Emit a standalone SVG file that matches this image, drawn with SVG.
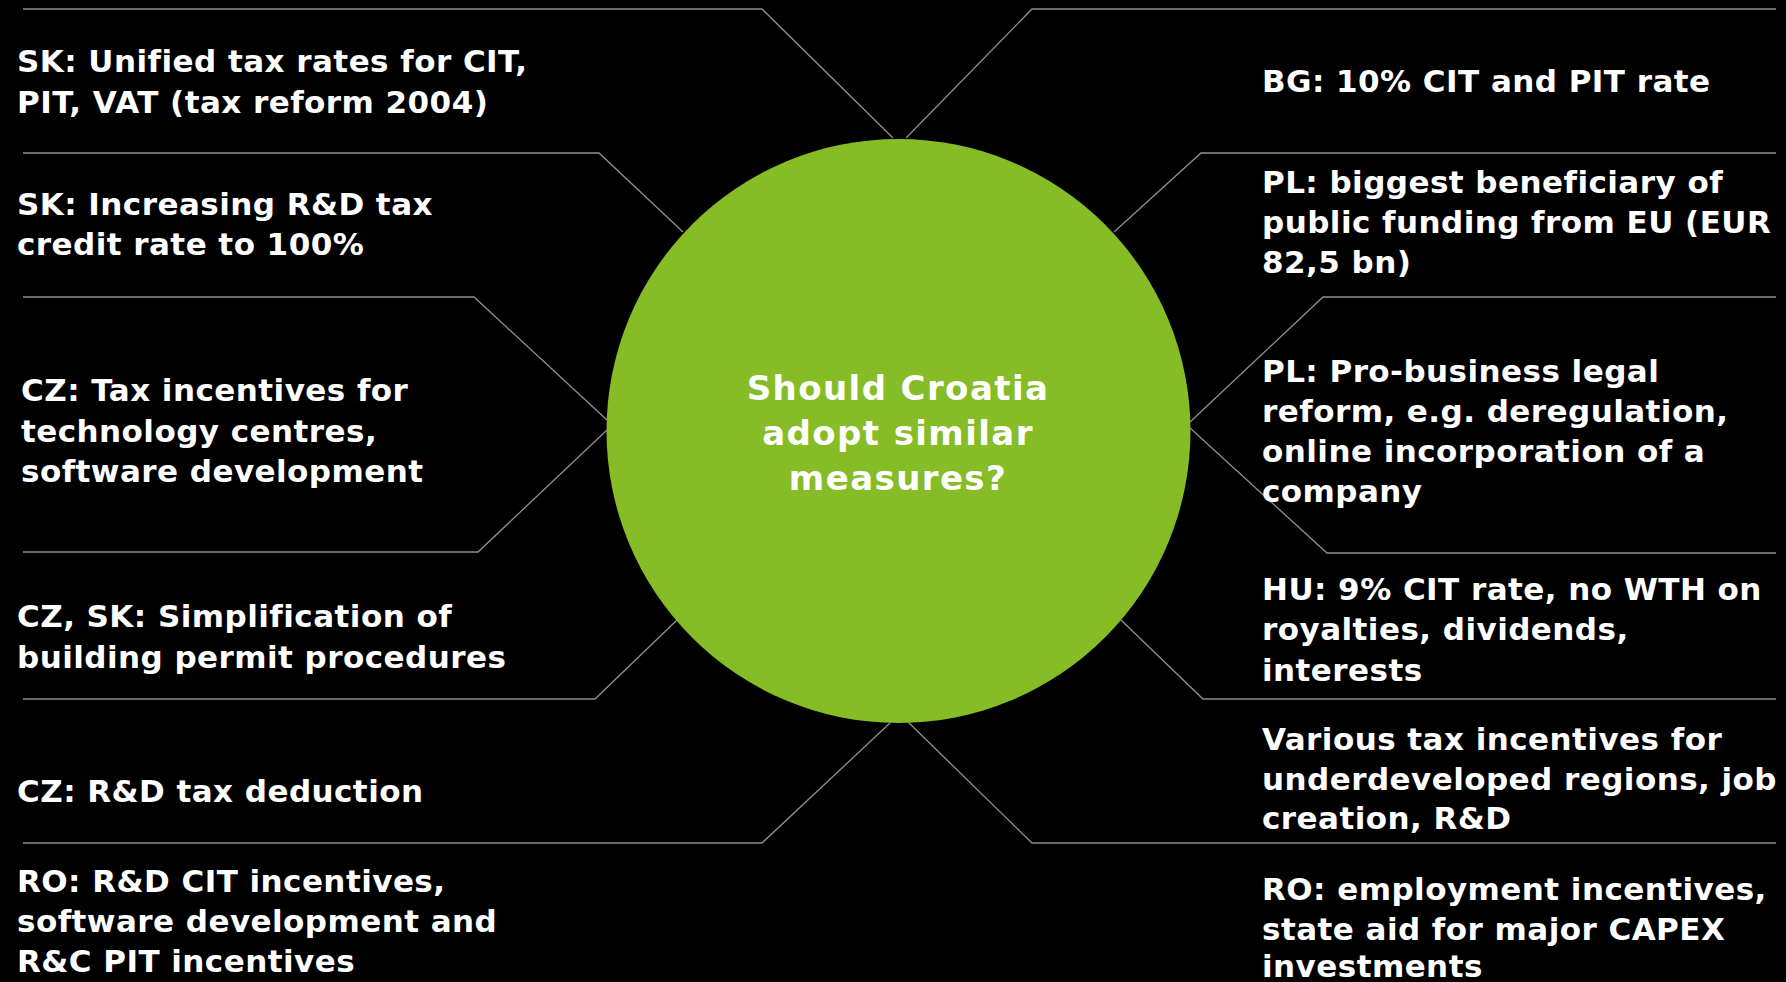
<svg xmlns="http://www.w3.org/2000/svg" width="1786" height="982" viewBox="0 0 1786 982">
  <style>
    .bg { fill: #000000; }
    .conn { fill: none; stroke: #8f8f8f; stroke-width: 1.3; }
    .lbl { font-family: "DejaVu Sans", Verdana, sans-serif; font-weight: bold; font-size: 31px; letter-spacing: 0.45px; fill: #ffffff; }
    .hub { fill: #86bc25; }
    .hubtxt { font-family: "DejaVu Sans", Verdana, sans-serif; font-weight: bold; font-size: 34px; letter-spacing: 1.4px; fill: #ffffff; text-anchor: middle; }
  </style>
  <rect class="bg" x="0" y="0" width="1786" height="982"/>

  <g id="connectors">
    <polyline class="conn" points="23,9 762,9 893,138"/>
    <polyline class="conn" points="23,153 599,153 683,232"/>
    <polyline class="conn" points="23,297 474,297 607,420"/>
    <polyline class="conn" points="607,430 478,552 23,552"/>
    <polyline class="conn" points="677,620 595,699 23,699"/>
    <polyline class="conn" points="890,723 762,843 23,843"/>
    <polyline class="conn" points="906,138 1032,9 1776,9"/>
    <polyline class="conn" points="1114,232 1201,153 1776,153"/>
    <polyline class="conn" points="1190,422 1323,297 1776,297"/>
    <polyline class="conn" points="1190,428 1327,553 1776,553"/>
    <polyline class="conn" points="1121,620 1203,699 1776,699"/>
    <polyline class="conn" points="908,722 1032,843 1776,843"/>
  </g>

  <g id="hub">
    <circle class="hub" cx="898.5" cy="431" r="292"/>
    <text class="hubtxt"><tspan x="898" y="400">Should Croatia</tspan><tspan x="898" y="445">adopt similar</tspan><tspan x="898" y="490">measures?</tspan></text>
  </g>

  <g id="sk-unified">
    <text class="lbl"><tspan x="17" y="72">SK: Unified tax rates for CIT,</tspan><tspan x="17" y="113">PIT, VAT (tax reform 2004)</tspan></text>
  </g>
  <g id="sk-rd">
    <text class="lbl"><tspan x="17" y="215">SK: Increasing R&amp;D tax</tspan><tspan x="17" y="255">credit rate to 100%</tspan></text>
  </g>
  <g id="cz-tech">
    <text class="lbl"><tspan x="21" y="401">CZ: Tax incentives for</tspan><tspan x="21" y="442">technology centres,</tspan><tspan x="21" y="482">software development</tspan></text>
  </g>
  <g id="czsk-permit">
    <text class="lbl"><tspan x="17" y="627">CZ, SK: Simplification of</tspan><tspan x="17" y="668">building permit procedures</tspan></text>
  </g>
  <g id="cz-rd">
    <text class="lbl"><tspan x="17" y="802">CZ: R&amp;D tax deduction</tspan></text>
  </g>
  <g id="ro-rd">
    <text class="lbl"><tspan x="17" y="892">RO: R&amp;D CIT incentives,</tspan><tspan x="17" y="932">software development and</tspan><tspan x="17" y="972">R&amp;C PIT incentives</tspan></text>
  </g>

  <g id="bg-rate">
    <text class="lbl"><tspan x="1262" y="92">BG: 10% CIT and PIT rate</tspan></text>
  </g>
  <g id="pl-funding">
    <text class="lbl"><tspan x="1262" y="193">PL: biggest beneficiary of</tspan><tspan x="1262" y="233">public funding from EU (EUR</tspan><tspan x="1262" y="273">82,5 bn)</tspan></text>
  </g>
  <g id="pl-reform">
    <text class="lbl"><tspan x="1262" y="382">PL: Pro-business legal</tspan><tspan x="1262" y="422">reform, e.g. deregulation,</tspan><tspan x="1262" y="462">online incorporation of a</tspan><tspan x="1262" y="502">company</tspan></text>
  </g>
  <g id="hu-cit">
    <text class="lbl"><tspan x="1262" y="600">HU: 9% CIT rate, no WTH on</tspan><tspan x="1262" y="640">royalties, dividends,</tspan><tspan x="1262" y="681">interests</tspan></text>
  </g>
  <g id="various">
    <text class="lbl"><tspan x="1262" y="750">Various tax incentives for</tspan><tspan x="1262" y="790">underdeveloped regions, job</tspan><tspan x="1262" y="829">creation, R&amp;D</tspan></text>
  </g>
  <g id="ro-employment">
    <text class="lbl"><tspan x="1262" y="900">RO: employment incentives,</tspan><tspan x="1262" y="940">state aid for major CAPEX</tspan><tspan x="1262" y="977">investments</tspan></text>
  </g>
</svg>
